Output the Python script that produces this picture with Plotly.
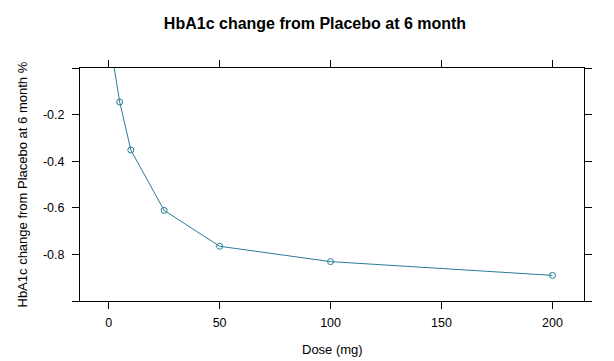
import plotly.graph_objects as go

dose = [1, 5, 10, 25, 50, 100, 200]
hba1c_change = [0.09, -0.146, -0.352, -0.611, -0.765, -0.831, -0.890]

x_tickvals = [0, 50, 100, 150, 200]
y_tickvals = [-1.0, -0.8, -0.6, -0.4, -0.2, 0.0]
y_ticktext = ["", "-0.8", "-0.6", "-0.4", "-0.2", ""]

title_text = "<b>HbA1c change from Placebo at 6 month</b>"
xlab = "Dose (mg)"
ylab = "HbA1c change from Placebo at 6 month %"

line_col = "#2a7b9b"
font_family = "Liberation Sans, Arial, sans-serif"

W, H = 614, 361
L, R, T, B = 72, 38, 60, 68
PW, PH = W - L - R, H - T - B

fig = go.Figure()
fig.add_trace(go.Scatter(
    x=dose, y=hba1c_change, mode="lines+markers",
    line=dict(color=line_col, width=1),
    marker=dict(symbol="circle-open", size=6, color=line_col, line=dict(width=1, color=line_col)),
    showlegend=False,
))

fig.update_layout(
    width=W, height=H,
    margin=dict(l=L, r=R, t=T, b=B),
    paper_bgcolor="white", plot_bgcolor="white",
    font=dict(family=font_family, size=12.5, color="black"),
    title=dict(text=title_text,
               x=0.5, xanchor="center", y=1 - 15/H, yanchor="middle",
               font=dict(size=16, family=font_family, color="black")),
)
fig.update_xaxes(
    range=[-12.9, 214.2], tickvals=x_tickvals,
    showline=True, linecolor="black", linewidth=1, mirror="ticks",
    ticks="outside", ticklen=7, tickcolor="black", tickwidth=1,
    showgrid=False, zeroline=False, automargin=False,
    ticklabelstandoff=3,
)
fig.update_yaxes(
    range=[-1.0, 0.0], tickvals=y_tickvals, ticktext=y_ticktext,
    showline=True, linecolor="black", linewidth=1, mirror="ticks",
    ticks="outside", ticklen=7, tickcolor="black", tickwidth=1,
    showgrid=False, zeroline=False, automargin=False,
    ticklabelstandoff=5,
)

fig.add_annotation(text=xlab, xref="paper", yref="paper",
                   x=(324 - L) / PW, y=(H - B - 341) / PH,
                   xanchor="center", yanchor="middle", showarrow=False,
                   font=dict(size=13))
fig.add_annotation(text=ylab, xref="paper", yref="paper",
                   x=(14 - L) / PW, y=0.5, textangle=-90,
                   xanchor="center", yanchor="middle", showarrow=False,
                   font=dict(size=13))

fig.write_html("out.html")
